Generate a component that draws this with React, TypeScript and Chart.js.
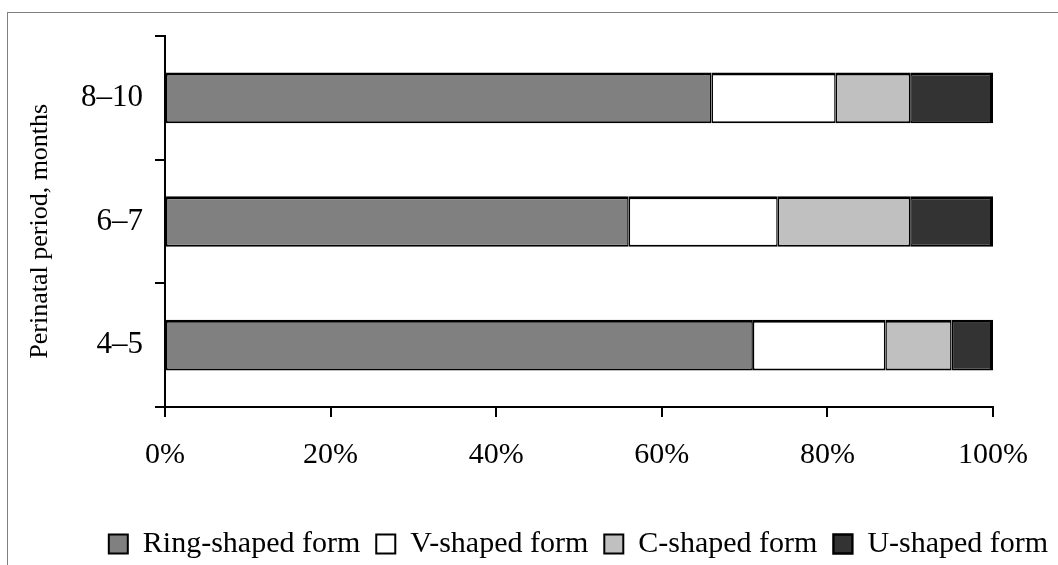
import React, { useEffect, useRef } from "react";
import { Chart, registerables } from "chart.js";

Chart.register(...registerables);

const categories = ["4–5", "6–7", "8–10"];
const seriesNames = ["Ring-shaped form", "V-shaped form", "C-shaped form", "U-shaped form"];
const ringValues = [71, 56, 66];
const vValues = [16, 18, 15];
const cValues = [8, 16, 9];
const uValues = [5, 10, 10];
const xTicks = [0, 20, 40, 60, 80, 100];
const yTitle = "Perinatal period, months   ";

const FONT = "'Liberation Serif', 'Times New Roman', serif";

export default function App() {
  const ref = useRef<HTMLCanvasElement | null>(null);

  useEffect(() => {
    if (!ref.current) return;
    const fills = ["#808080", "#ffffff", "#c0c0c0", "#333333"];
    const values = [ringValues, vValues, cValues, uValues];
    const chart = new Chart(ref.current, {
      type: "bar",
      data: {
        labels: categories,
        datasets: seriesNames.map((name, i) => ({
          label: name,
          data: values[i],
          backgroundColor: fills[i],
          borderColor: "#000000",
          borderWidth: { top: 3, bottom: 2, left: 1.5, right: i === 3 ? 3 : 1.5 },
          borderSkipped: false,
          categoryPercentage: 1,
          barPercentage: 0.41,
        })),
      },
      options: {
        indexAxis: "y",
        responsive: false,
        animation: false,
        devicePixelRatio: 1,
        layout: { padding: { left: 0, right: 0, top: 36, bottom: 0 } },
        plugins: {
          tooltip: { enabled: false },
          legend: {
            display: true,
            position: "bottom",
            labels: {
              color: "#000",
              font: { family: FONT, size: 30 },
              boxWidth: 19,
              boxHeight: 19,
              padding: 16,
            },
          },
        },
        scales: {
          x: {
            stacked: true,
            min: 0,
            max: 100,
            afterBuildTicks: (s: any) => {
              s.ticks = xTicks.map((v) => ({ value: v }));
            },
            afterFit: (s: any) => {
              s.height = 106;
            },
            ticks: {
              color: "#000",
              font: { family: FONT, size: 30 },
              padding: 20,
              maxRotation: 0,
              callback: (v: any) => `${v}%`,
            },
            grid: {
              drawOnChartArea: false,
              drawTicks: true,
              tickLength: 10,
              color: "#000",
              lineWidth: 2,
            },
            border: { display: true, color: "#000", width: 2 },
          },
          y: {
            stacked: true,
            reverse: true,
            afterFit: (s: any) => {
              s.width = 165;
            },
            title: {
              display: true,
              text: yTitle,
              color: "#000",
              font: { family: FONT, size: 26 },
              padding: { top: 25, bottom: 0 },
            },
            ticks: {
              color: "#000",
              font: { family: FONT, size: 31 },
              padding: 12,
            },
            grid: {
              offset: true,
              drawOnChartArea: false,
              drawTicks: true,
              tickLength: 10,
              color: "#000",
              lineWidth: 2,
            },
            border: { display: true, color: "#000", width: 2 },
          },
          yRight: {
            type: "linear",
            position: "right",
            display: true,
            afterFit: (s: any) => {
              s.width = 164;
            },
            grid: { display: false, drawTicks: false },
            ticks: { display: false },
            border: { display: false },
          },
        },
      },
    });
    return () => chart.destroy();
  }, []);

  return (
    <div
      style={{
        position: "fixed",
        left: 0,
        top: 0,
        width: 1058,
        height: 565,
        overflow: "hidden",
        background: "#ffffff",
      }}
    >
      <div
        style={{
          position: "absolute",
          left: 7,
          top: 12,
          width: 1200,
          height: 700,
          border: "1px solid #808080",
          boxSizing: "border-box",
        }}
      />
      <canvas
        ref={ref}
        width={1157}
        height={569}
        style={{ position: "absolute", left: 0, top: 0, width: 1157, height: 569 }}
      />
    </div>
  );
}
